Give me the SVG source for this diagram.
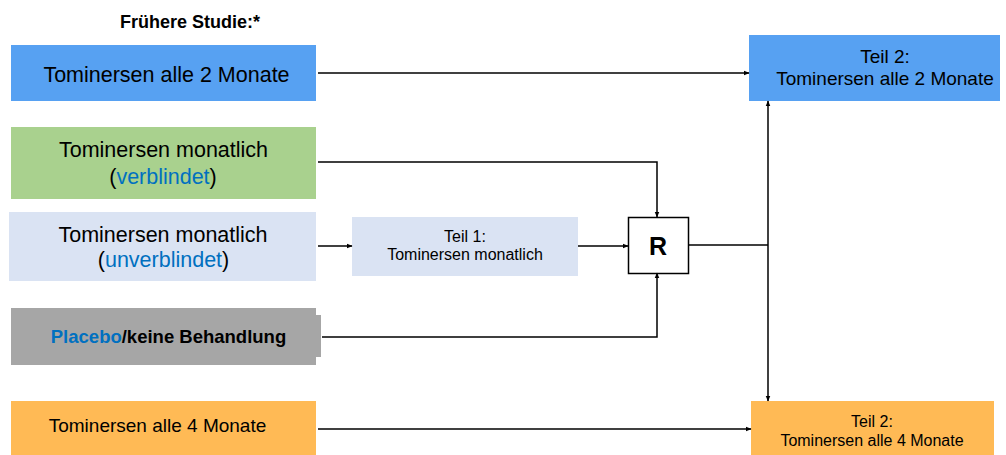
<svg xmlns="http://www.w3.org/2000/svg" width="1006" height="455" viewBox="0 0 1006 455">
<style>
text{font-family:"Liberation Sans",Arial,sans-serif;fill:#000}
.c{text-anchor:middle}
.b{font-weight:bold}
.bl{fill:#0070C0}
.l{fill:none;stroke:#000;stroke-width:1.5}
</style>
<defs>
<marker id="a" viewBox="0 0 10 10" refX="9" refY="5" markerWidth="6" markerHeight="6" orient="auto-start-reverse" markerUnits="userSpaceOnUse"><path d="M0,1 L10,5 L0,9 z" fill="#000"/></marker>
</defs>
<text x="190" y="28" class="c b" font-size="18">Frühere Studie:*</text>
<g id="n1"><rect x="11" y="45" width="305" height="56" fill="#57A1F2"/><text x="166.5" y="82" class="c" font-size="21.5">Tominersen alle 2 Monate</text></g>
<g id="n2"><rect x="11" y="127" width="305" height="72" fill="#A9D18E"/><text x="163.5" y="157" class="c" font-size="21.5">Tominersen monatlich</text><text x="163" y="184" class="c" font-size="21.5">(<tspan class="bl">verblindet</tspan>)</text></g>
<g id="n3"><rect x="9" y="212" width="307" height="69" fill="#DAE3F3"/><text x="163" y="242" class="c" font-size="21.5">Tominersen monatlich</text><text x="163.5" y="267" class="c" font-size="21.5">(<tspan class="bl">unverblindet</tspan>)</text></g>
<g id="n4"><rect x="11" y="308" width="305" height="57" fill="#A6A6A6"/><rect x="310" y="315" width="11" height="42" fill="#A6A6A6"/><text x="168.5" y="343" class="c b" font-size="18.5"><tspan class="bl">Placebo</tspan>/keine Behandlung</text></g>
<g id="n5"><rect x="11" y="401" width="305" height="54" fill="#FFBA55"/><text x="157.5" y="432" class="c" font-size="19">Tominersen alle 4 Monate</text></g>
<g id="n6"><rect x="352" y="217" width="226" height="59" fill="#DAE3F3"/><text x="465" y="242" class="c" font-size="16">Teil 1:</text><text x="465" y="260" class="c" font-size="16">Tominersen monatlich</text></g>
<g id="n7"><rect x="628.5" y="217.5" width="60" height="56" fill="#fff" stroke="#000" stroke-width="1.5"/><text x="658" y="255" class="c b" font-size="25">R</text></g>
<g id="n8"><rect x="749" y="35" width="251" height="66" fill="#57A1F2"/><text x="885" y="62.5" class="c" font-size="19">Teil 2:</text><text x="885" y="85" class="c" font-size="19">Tominersen alle 2 Monate</text></g>
<g id="n9"><rect x="751" y="401" width="243" height="54" fill="#FFBA55"/><text x="872" y="427" class="c" font-size="16">Teil 2:</text><text x="872" y="446" class="c" font-size="16">Tominersen alle 4 Monate</text></g>
<g id="connectors">
<path class="l" d="M318,73 H749" marker-end="url(#a)"/>
<path class="l" d="M318,162 H657 V217" marker-end="url(#a)"/>
<path class="l" d="M318,246 H352" marker-end="url(#a)"/>
<path class="l" d="M578,246 H628" marker-end="url(#a)"/>
<path class="l" d="M322,337 H657 V273" marker-end="url(#a)"/>
<path class="l" d="M689,245 H768"/>
<path class="l" d="M768,101 V401" marker-start="url(#a)" marker-end="url(#a)"/>
<path class="l" d="M318,429 H751" marker-end="url(#a)"/>
</g>
</svg>
